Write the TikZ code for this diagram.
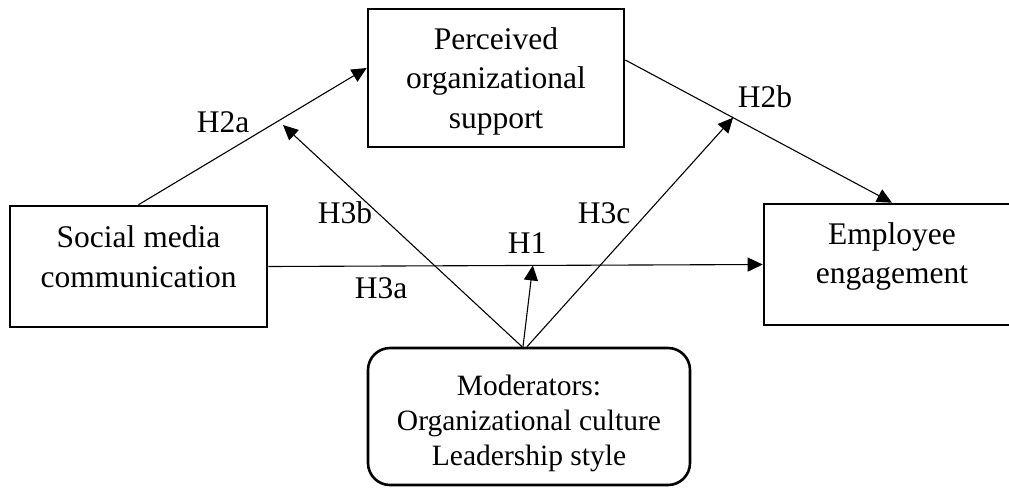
\documentclass[tikz,border=0pt]{standalone}
\usepackage{fontspec}
\setmainfont{Liberation Serif}
\usepackage{tikz}
\usetikzlibrary{arrows.meta, positioning}

\begin{document}
\begin{tikzpicture}[x=1pt, y=1pt,
    font=\fontsize{31.5}{39.5}\selectfont,
    varbox/.style={draw, line width=2.6pt, align=center, inner sep=0pt},
    modbox/.style={draw, line width=2.6pt, align=center, inner sep=0pt,
                   rounded corners=22pt, font=\fontsize{29.5}{35}\selectfont},
    hpath/.style={line width=1.1pt, -{Triangle[length=15pt, width=14pt]}},
    hyp/.style={inner sep=0pt}]
  \useasboundingbox (0,0) rectangle (1009,-488);

  % constructs
  \node[varbox, minimum width=257pt, minimum height=121pt, text depth=20pt]
    (smc) at (138.5,-266.5) {Social media\\communication};
  \node[varbox, minimum width=256pt, minimum height=138pt, text depth=0pt]
    (pos) at (496,-78) {Perceived\\organizational\\support};
  \node[varbox, minimum width=256pt, minimum height=121pt, text depth=23pt]
    (ee) at (892,-264.5) {Employee\\engagement};
  \node[modbox, minimum width=322pt, minimum height=137pt, text height=97pt, text depth=0pt]
    (mod) at (529,-416.5) {Moderators:\\Organizational culture\\Leadership style};

  % direct paths
  \draw[hpath] (smc.north) -- ([yshift=10pt]pos.west);
  \draw[hpath] ([yshift=18pt]pos.east) -- coordinate[pos=0.404] (h2bpt) (ee.north);
  \draw[hpath] (smc.east) -- coordinate[pos=0.535] (h1pt) (ee.west);

  % moderation paths
  \coordinate (h3btip) at (283,-125);
  \draw[hpath] ([xshift=-7pt]mod.north) -- (h3btip);
  \draw[hpath] ([xshift=-2pt]mod.north) -- (h2bpt);
  \draw[hpath] ([xshift=-6pt]mod.north) -- (h1pt);

  % hypothesis labels
  \node[hyp] (h2a) at (223,-122) {H2a};
  \node[hyp] (h2b) at (765,-97) {H2b};
  \node[hyp] (h3b) at (345,-213) {H3b};
  \node[hyp] (h3c) at (604,-213) {H3c};
  \node[hyp] (h1) at (527,-243) {H1};
  \node[hyp] (h3a) at (381,-288) {H3a};
\end{tikzpicture}
\end{document}
